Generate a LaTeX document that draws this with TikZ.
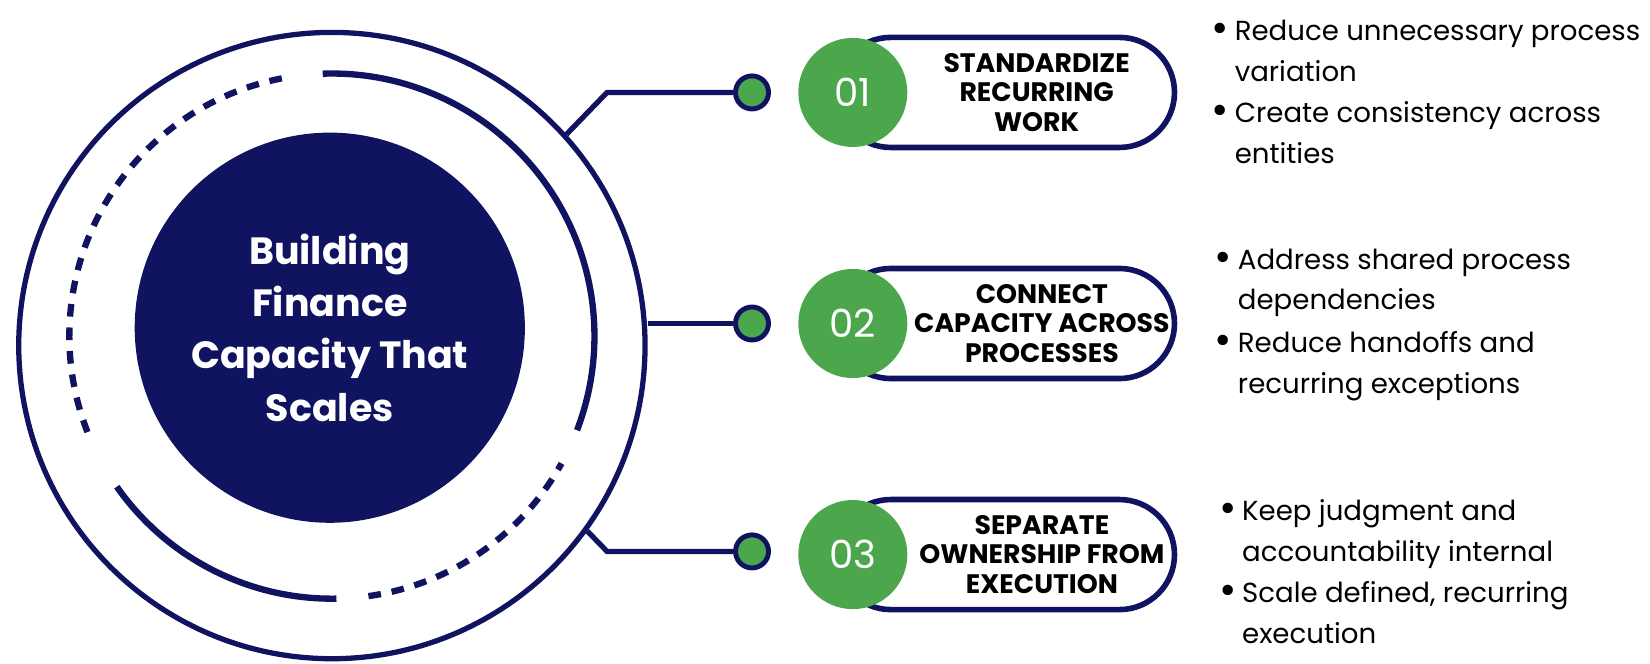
\documentclass[tikz,border=0pt]{standalone}
\usepackage{fontspec}
\setmainfont{Poppins}
\usetikzlibrary{shapes.misc}
\definecolor{navy}{RGB}{16,20,96}
\definecolor{leaf}{RGB}{76,166,76}
\tikzset{
  ring/.style={circle, draw=navy, line width=1.5pt, minimum size=6.26cm, inner sep=0pt},
  hub/.style={circle, fill=navy, minimum size=3.9cm, text=white, align=center,
    font=\fontsize{10.8}{14.9}\selectfont\bfseries},
  band/.style={draw=navy, line width=1.8pt},
  dashband/.style={band, dash pattern=on 3.6pt off 3.1pt},
  link/.style={draw=navy, line width=1.5pt},
  dot/.style={circle, fill=leaf, draw=navy, line width=1.4pt, minimum size=0.33cm, inner sep=0pt},
  pill/.style={rounded rectangle, draw=navy, line width=1.6pt, minimum width=3.62cm, minimum height=1.1cm},
  num/.style={circle, fill=leaf, minimum size=1.09cm, inner sep=0pt, text=white,
    font=\fontsize{11}{12}\selectfont},
  title/.style={align=center, font=\fontsize{7.6}{8.3}\selectfont\bfseries},
  bul/.style={anchor=west, inner sep=0pt, font=\fontsize{12}{12}\selectfont},
  item/.style={anchor=north west, align=left, inner sep=0pt, font=\fontsize{7.85}{11.65}\selectfont}
}
\begin{document}
\begin{tikzpicture}[x=0.0105cm,y=-0.0105cm]
\useasboundingbox (0,0) rectangle (1571,632);
% centre
\node[ring] (ring) at (316,329) {};
\node[hub] (hub) at (314,312) {Building\\Finance\\Capacity That\\Scales};
\coordinate (mid) at (316,320);
\draw[band] (mid) ++(-92:250) arc[start angle=-92, end angle=21, radius=250];
\draw[dashband] (mid) ++(-101:250) arc[start angle=-101, end angle=-202, radius=250];
\draw[band] (mid) ++(-215:250) arc[start angle=-215, end angle=-271, radius=250];
\draw[dashband] (mid) ++(82:250) arc[start angle=82, end angle=29, radius=250];
% branches
\node[dot] (d1) at (716,88) {};
\node[dot] (d2) at (716,308) {};
\node[dot] (d3) at (716,525) {};
\coordinate (k1) at (578,88);
\coordinate (k3) at (578,525);
\draw[link] (ring.42) -- (k1) -- (d1);
\draw[link] (ring.east |- d2) -- (d2);
\draw[link] (ring.-36) -- (k3) -- (d3);
% steps
\node[pill] (p1) at (957,88) {};
\node[pill] (p2) at (957,308) {};
\node[pill] (p3) at (957,528) {};
\node[num] (n1) at (812,88) {01};
\node[num] (n2) at (812,308) {02};
\node[num] (n3) at (812,528) {03};
\node[title] (t1) at (987,88) {STANDARDIZE\\RECURRING\\WORK};
\node[title] (t2) at (992,308) {CONNECT\\CAPACITY ACROSS\\PROCESSES};
\node[title] (t3) at (992,528) {SEPARATE\\OWNERSHIP FROM\\EXECUTION};
% bullets
\node[bul] (b11) at (1153,31) {\textbullet};
\node[item] (i11) at (1175,18) {Reduce unnecessary process\\variation};
\node[bul] (b12) at (1153,109) {\textbullet};
\node[item] (i12) at (1175,96) {Create consistency across\\entities};
\node[bul] (b21) at (1156,249) {\textbullet};
\node[item] (i21) at (1178,236) {Address shared process\\dependencies};
\node[bul] (b22) at (1156,328) {\textbullet};
\node[item] (i22) at (1178,315) {Reduce handoffs and\\recurring exceptions};
\node[bul] (b31) at (1160,488) {\textbullet};
\node[item] (i31) at (1182,475) {Keep judgment and\\accountability internal};
\node[bul] (b32) at (1160,566) {\textbullet};
\node[item] (i32) at (1182,553) {Scale defined, recurring\\execution};
\end{tikzpicture}
\end{document}
